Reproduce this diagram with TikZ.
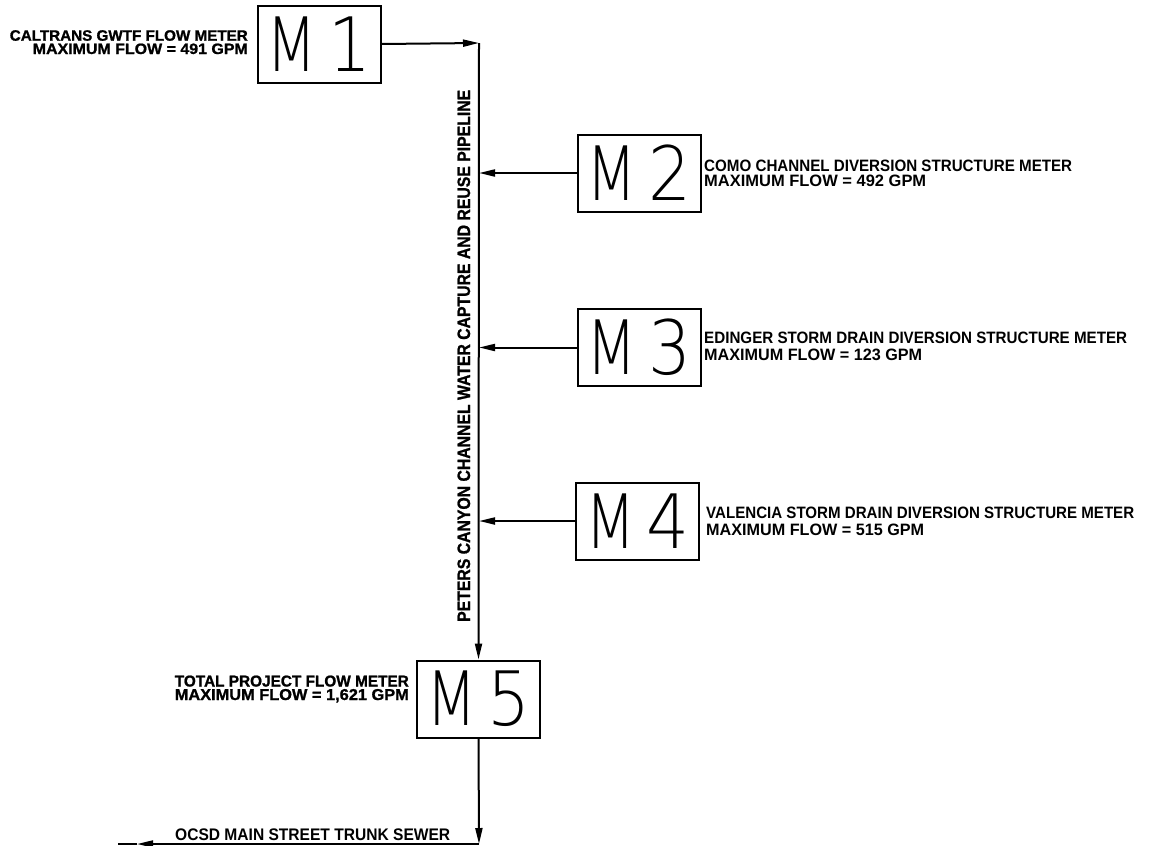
\documentclass[tikz,border=0pt]{standalone}
\usepackage{fontspec}
\usepackage{graphicx}
\setmainfont{Liberation Sans}
\newfontfamily\heavyfont{Liberation Sans Bold}[FakeBold=1.2]
\IfFontExistsTF{DejaVu Sans ExtraLight}{\newfontfamily\mfont{DejaVu Sans ExtraLight}}{%
  \IfFontExistsTF{Lato Light}{\newfontfamily\mfont{Lato Light}}{\newfontfamily\mfont{Liberation Sans}}}
\usetikzlibrary{arrows.meta}
\newcommand{\lbl}[3]{\resizebox{#1pt}{#2pt}{\bfseries #3}}
\newcommand{\hlbl}[3]{\resizebox{#1pt}{#2pt}{\heavyfont #3}}
\newcommand{\meterlbl}[1]{{\mfont\fontsize{75pt}{75pt}\selectfont\scalebox{0.78}[1]{M}\hspace{11pt}\scalebox{0.9}[1]{#1}}}
\begin{document}
\begin{tikzpicture}[x=1pt,y=-1pt,
  meter/.style={draw, line width=2pt, minimum width=123pt, minimum height=77pt, inner sep=0pt},
  flow/.style={line width=2pt, -{Triangle[length=16pt,width=7pt]}},
  pipe/.style={line width=2pt},
  lab/.style={inner sep=0pt}]
\useasboundingbox (0,0) rectangle (1149,846);
\fill[white] (0,0) rectangle (1149,846);

% meters
\node[meter] (M1) at (319,44) {\meterlbl{1}};
\node[meter] (M2) at (639,173) {\meterlbl{2}};
\node[meter] (M3) at (639,347.5) {\meterlbl{3}};
\node[meter] (M4) at (637.5,521) {\meterlbl{4}};
\node[meter] (M5) at (478.5,699) {\meterlbl{5}};

% pipeline coordinates
\coordinate (top) at (479,43);
\coordinate (bot) at (479,844);
\coordinate (tipL) at (137,844);
\coordinate (endL) at (118,844);

% connectors
\draw[flow] (M1.east) -- (top);
\draw[flow] (top) -- (M5.north);
\draw[flow] (M2.west) -- (M2.west -| top);
\draw[flow] (M3.west) -- (M3.west -| top);
\draw[flow] (M4.west) -- (M4.west -| top);
\draw[flow] (M5.south) -- (bot);
\draw[flow] (bot) -- (tipL);
\draw[pipe] (tipL) -- (endL);

% labels
\node[lab, anchor=base east] (l1a) at (248,40.7) {\hlbl{238}{10.5}{CALTRANS GWTF FLOW METER}};
\node[lab, anchor=base east] (l1b) at (248,54) {\hlbl{215}{10.5}{MAXIMUM FLOW = 491 GPM}};

\node[lab, anchor=base west] (l2a) at (704,171.7) {\lbl{368}{11.5}{COMO CHANNEL DIVERSION STRUCTURE METER}};
\node[lab, anchor=base west] (l2b) at (704,186.7) {\lbl{222}{11.5}{MAXIMUM FLOW = 492 GPM}};

\node[lab, anchor=base west] (l3a) at (704,343.3) {\lbl{423}{11.5}{EDINGER STORM DRAIN DIVERSION STRUCTURE METER}};
\node[lab, anchor=base west] (l3b) at (704,360) {\lbl{218}{11.5}{MAXIMUM FLOW = 123 GPM}};

\node[lab, anchor=base west] (l4a) at (706,518) {\lbl{428}{11.5}{VALENCIA STORM DRAIN DIVERSION STRUCTURE METER}};
\node[lab, anchor=base west] (l4b) at (706,535) {\lbl{218}{11.5}{MAXIMUM FLOW = 515 GPM}};

\node[lab, anchor=base east] (l5a) at (409,686.5) {\hlbl{234}{11}{TOTAL PROJECT FLOW METER}};
\node[lab, anchor=base east] (l5b) at (409,700) {\hlbl{234}{11}{MAXIMUM FLOW = 1,621 GPM}};

\node[lab, anchor=base west] (ocsd) at (175,840) {\lbl{275}{11.7}{OCSD MAIN STREET TRUNK SEWER}};

\node[lab, anchor=base west, rotate=90] (pipelbl) at (470,622) {\hlbl{532}{12.5}{PETERS CANYON CHANNEL WATER CAPTURE AND REUSE PIPELINE}};
\end{tikzpicture}
\end{document}
